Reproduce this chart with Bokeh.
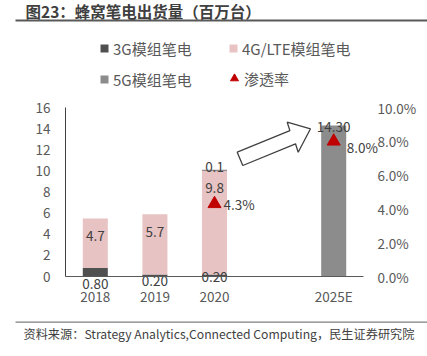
from bokeh.plotting import figure
from bokeh.models import (Range1d, LinearAxis, FixedTicker, NumeralTickFormatter,
                          Legend, LegendItem, ColumnDataSource)
from bokeh.core.properties import value
from bokeh.embed import file_html
from bokeh.resources import INLINE

# ---------------- data ----------------
categories = ["2018", "2019", "2020", "2025E"]
shipments_3g = [0.80, 0.20, 0.20, 0.0]
shipments_4g = [4.7, 5.7, 9.8, 0.0]
shipments_5g = [0.0, 0.0, 0.1, 14.30]
labels_3g = ["0.80", "0.20", "0.20", ""]
labels_4g = ["4.7", "5.7", "9.8", ""]
labels_5g = ["", "", "0.1", "14.30"]
pen_years = ["2020", "2025E"]
penetration = [0.043, 0.080]
pen_labels = ["4.3%", "8.0%"]
left_ticks = [0, 2, 4, 6, 8, 10, 12, 14, 16]
right_ticks = [0.0, 0.02, 0.04, 0.06, 0.08, 0.10]
series_names = ["3G模组笔电", "4G/LTE模组笔电", "5G模组笔电", "渗透率"]
title_text = "图23：蜂窝笔电出货量（百万台）"
source_text = "资料来源：Strategy Analytics,Connected Computing，民生证券研究院"

# ---------------- style / layout ----------------
FONT = "Noto Sans CJK SC"
C3, C4, C5, CRED = "#505050", "#e8c3c3", "#8c8c8c", "#c00000"
TXT = "#404040"
TICK = "#595959"
W, H = 427, 356
# plot area inside the canvas (pixels)
PL, PR, PT, PB = 65, 363, 107, 276
Y_MAX, PCT_MAX = 16, 0.10

axis_slots = categories[:3] + [None] + categories[3:]
slot_of = {c: i for i, c in enumerate(axis_slots) if c is not None}
xs = [slot_of[c] for c in categories]
pen_x = [slot_of[c] for c in pen_years]
n_slots = len(axis_slots)

px_x = (PR - PL) / n_slots          # pixels per category slot
px_y = (PB - PT) / Y_MAX            # pixels per unit
x0 = -0.5 - PL / px_x
x1 = n_slots - 0.5 + (W - PR) / px_x
y0 = -(H - PB) / px_y
y1 = Y_MAX + PT / px_y

p = figure(width=W, height=H, x_range=Range1d(x0, x1), y_range=Range1d(y0, y1),
           output_backend="svg", toolbar_location=None, min_border=0,
           x_axis_type=None, y_axis_type=None)
p.title.visible = False
p.outline_line_color = None
p.background_fill_color = "white"
p.border_fill_color = "white"
p.extra_y_ranges = {"pct": Range1d(y0 * PCT_MAX / Y_MAX, y1 * PCT_MAX / Y_MAX),
                    "win": Range1d(H, 0)}
p.extra_x_ranges = {"win": Range1d(0, W)}

# bars
src = ColumnDataSource(dict(x=xs, year=categories, g3=shipments_3g, g4=shipments_4g, g5=shipments_5g))
bars = p.vbar_stack(["g3", "g4", "g5"], x="x", width=0.42, source=src,
                    fill_color=[C3, C4, C5], line_color=None)

# data labels
tx, ty, tt, toff = [], [], [], []
off3 = [7, 4, 0.5, 0]
off5 = [0, 0, -2.5, 2]
for i, c in enumerate(categories):
    if labels_3g[i]:
        tx.append(xs[i]); ty.append(0); tt.append(labels_3g[i]); toff.append(off3[i])
    if labels_4g[i]:
        tx.append(xs[i]); ty.append(shipments_3g[i] + shipments_4g[i]); tt.append(labels_4g[i]); toff.append(17.5)
    if labels_5g[i]:
        tx.append(xs[i]); ty.append(shipments_3g[i] + shipments_4g[i] + shipments_5g[i]); tt.append(labels_5g[i]); toff.append(off5[i])
lab_src = ColumnDataSource(dict(x=tx, y=ty, t=tt, off=toff))
p.text(x="x", y="y", text="t", y_offset="off", source=lab_src,
       text_align="center", text_baseline="middle",
       text_font=value(FONT), text_font_size="13.5px", text_color=TXT)

# penetration
pen_src = ColumnDataSource(dict(x=pen_x, year=pen_years, pen=penetration, lab=pen_labels,
                                xo=[9, 13], yo=[0, 6]))
tri = p.scatter(x="x", y="pen", source=pen_src, marker="triangle", size=13,
                fill_color=CRED, line_color=CRED, y_range_name="pct")
p.text(x="x", y="pen", text="lab", x_offset="xo", y_offset="yo", source=pen_src,
       y_range_name="pct", text_align="left", text_baseline="middle",
       text_font=value(FONT), text_font_size="13.5px", text_color=TXT)

# axes, fixed at the plot-area edges
def style_axis(ax, standoff):
    ax.major_tick_line_color = None
    ax.minor_tick_line_color = None
    ax.major_tick_out = 0
    ax.major_tick_in = 0
    ax.minor_tick_out = 0
    ax.minor_tick_in = 0
    ax.major_label_standoff = standoff
    ax.major_label_text_font = FONT
    ax.major_label_text_font_size = "13.5px"
    ax.major_label_text_color = TICK

la = LinearAxis(ticker=FixedTicker(ticks=left_ticks), fixed_location=-0.5, bounds=(0, Y_MAX))
style_axis(la, 15)
la.axis_line_color = "#404040"
p.add_layout(la, "left")

ba = LinearAxis(ticker=FixedTicker(ticks=xs), fixed_location=0, bounds=(-0.5, n_slots - 0.5))
ba.major_label_overrides = {x: c for x, c in zip(xs, categories)}
style_axis(ba, 9)
ba.axis_line_color = "#595959"
p.add_layout(ba, "below")

ra = LinearAxis(y_range_name="pct", ticker=FixedTicker(ticks=right_ticks),
                formatter=NumeralTickFormatter(format="0.0%"),
                fixed_location=n_slots - 0.5, bounds=(0, PCT_MAX))
style_axis(ra, 14)
ra.axis_line_color = None
p.add_layout(ra, "right")

# legends
leg_a = Legend(items=[LegendItem(label=series_names[i], renderers=[bars[i]]) for i in range(3)],
               orientation="horizontal", ncols=2, location=(99, 264),
               glyph_width=10, glyph_height=10, label_standoff=4,
               label_width=110, label_height=26, spacing=5, padding=0, margin=0,
               border_line_color=None, background_fill_alpha=0,
               label_text_font=FONT, label_text_font_size="15px", label_text_color=TICK)
leg_b = Legend(items=[LegendItem(label=series_names[3], renderers=[tri])],
               location=(224, 267),
               glyph_width=20, glyph_height=22, label_standoff=0,
               label_height=22, spacing=0, padding=0, margin=0,
               border_line_color=None, background_fill_alpha=0,
               label_text_font=FONT, label_text_font_size="15px", label_text_color=TICK)
p.add_layout(leg_a)
p.add_layout(leg_b)

# title, rules, source note, arrow (decoration, canvas pixels)
p.text(x=[25], y=[10.5], text=[title_text], x_range_name="win", y_range_name="win",
       text_align="left", text_baseline="middle", text_font=value(FONT),
       text_font_size="15.5px", text_font_style="bold", text_color="#3f3f3f")
p.segment(x0=[15], y0=[20], x1=[W], y1=[20], x_range_name="win", y_range_name="win",
          line_color="#595959", line_width=2)
p.segment(x0=[15], y0=[321.7], x1=[W], y1=[321.7], x_range_name="win", y_range_name="win",
          line_color="#7f7f7f", line_width=1.2)
p.text(x=[23], y=[333], text=[source_text], x_range_name="win", y_range_name="win",
       text_align="left", text_baseline="middle", text_font=value(FONT),
       text_font_size="12.2px", text_color="#3f3f3f")
p.patch(x=[242.3, 236.7, 289.4, 286.7, 310, 297.7, 295],
        y=[165, 151.7, 130.1, 121.7, 128.3, 151.7, 143.3],
        x_range_name="win", y_range_name="win",
        fill_color="white", line_color="#404040", line_width=1.3)

open("out.html", "w").write(file_html(p, INLINE))
